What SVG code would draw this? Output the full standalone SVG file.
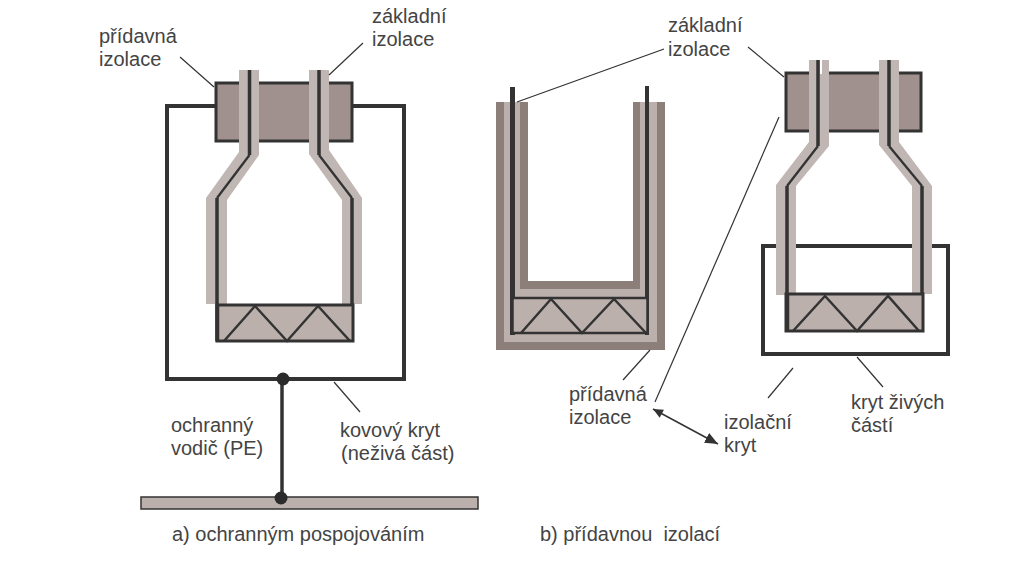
<svg xmlns="http://www.w3.org/2000/svg" width="1024" height="568" viewBox="0 0 1024 568">
<style>
text{font-family:"Liberation Sans",Arial,sans-serif;font-size:20px;fill:#444}
.lead{fill:none;stroke:#333;stroke-width:1.2}
.wire{fill:none;stroke:#333;stroke-width:3.500}
.diag{fill:none;stroke:#333;stroke-width:2.300}
.ins{fill:#c0b6b3}
.frame{fill:none;stroke:#333;stroke-width:4}
.up{fill:#a0918e;stroke:#333;stroke-width:3}
.low{fill:#bcb0ad;stroke:#333;stroke-width:3}
.zig{fill:none;stroke:#333;stroke-width:2.500}
.dot{fill:#2b2b2b}
</style>
<defs>
<marker id="ah1" markerUnits="userSpaceOnUse" markerWidth="12" markerHeight="10" refX="0" refY="5" orient="auto"><path d="M0 5L10 0.500V9.500Z" fill="#333"/></marker>
<marker id="ah2" markerUnits="userSpaceOnUse" markerWidth="14" markerHeight="12" refX="13" refY="6" orient="auto"><path d="M0 0.500L13 6L0 11.500Z" fill="#333"/></marker>
</defs>
<rect width="1024" height="568" fill="#fff"/>

<g id="a-enclosure"><path class="frame" d="M215 106H167V379H404V106H352"/></g>
<g id="a-top-insulator"><rect class="up" x="216" y="83" width="136" height="58"/></g>
<g id="a-conductor-left"><path class="ins" d="M239 70H259V155L227 200V304H206V198L239 152Z"/><path class="wire" d="M249.500 70V155M217 198V341"/><path class="diag" d="M249.500 155L217 198"/></g>
<g id="a-conductor-right"><path class="ins" d="M309 70H329V150L362 198V304H342V200L309 154Z"/><path class="wire" d="M319 70V155M352 198V341"/><path class="diag" d="M319 155L352 198"/></g>
<g id="a-live-part"><rect class="low" x="217" y="305" width="136" height="36"/><path class="wire" d="M217.500 305V342"/><path class="zig" d="M224 341L255 306L287 341L318 306L350 341"/></g>
<g id="a-ground-bar"><rect x="141" y="497" width="337" height="12" fill="#bcb0ad" stroke="#333" stroke-width="1.500"/></g>
<g id="a-pe"><path d="M282 379V498" stroke="#333" stroke-width="3.500" fill="none"/><circle class="dot" cx="283" cy="379" r="6.500"/><circle class="dot" cx="281" cy="498" r="6.500"/></g>

<g id="b-insulated-wall">
<path d="M496 102H528V281H633V102H665V350H496Z" fill="#8c7f7a"/>
<path d="M504 102H520V289H640V102H657V342H504Z" fill="#bcb0ad"/>
<path d="M512.500 87V335" stroke="#333" stroke-width="5" fill="none"/>
<path d="M647 86V335" stroke="#333" stroke-width="4" fill="none"/>
</g>
<g id="b-live-part"><rect x="512.500" y="298" width="135" height="35" fill="#bcb0ad" stroke="#333" stroke-width="2.500"/><path class="zig" d="M521 333L551 299L582 333L614 299L646 333"/></g>

<g id="c-enclosure"><rect class="frame" x="763" y="246" width="185" height="108" stroke-width="4.500"/></g>
<g id="c-top-insulator"><rect class="up" x="786" y="73" width="135" height="58"/></g>
<g id="c-conductor-left"><path class="ins" d="M809 60H829V146L796 186V295H776V185L809 142Z"/><path d="M820 60h2v14h-2Z" fill="#fff"/><path class="wire" d="M818 60V146M787 186V332"/><path class="diag" d="M818 146L787 186"/></g>
<g id="c-conductor-right"><path class="ins" d="M879 60H899V142L932 186V294H912V186L879 145Z"/><path class="wire" d="M889 60V146M922 186V332"/><path class="diag" d="M889 146L922 186"/></g>
<g id="c-live-part"><rect class="low" x="786" y="294" width="137" height="37"/><path class="wire" d="M787.500 294V332" stroke-width="5"/><path class="zig" d="M793 331L825 296L857 331L888 296L919 331"/></g>

<g id="connectors">
<path class="lead" d="M180 57L214 87"/>
<path class="lead" d="M363 43L329 75"/>
<path class="lead" d="M334 382L360 412"/>
<path class="lead" d="M517 102L664 49"/>
<path class="lead" d="M748 47L784 77"/>
<path class="lead" d="M779 117L655 402"/>
<path class="lead" d="M650 350L623 380"/>
<path class="lead" d="M793 368L768 398"/>
<path class="lead" d="M857 357L883 387"/>
<path d="M653 409L718 444" fill="none" stroke="#333" stroke-width="1.500" marker-start="url(#ah1)" marker-end="url(#ah2)"/>
</g>

<g id="labels">
<text x="99" y="43">přídavná</text>
<text x="99" y="66">izolace</text>
<text x="372" y="23">základní</text>
<text x="372" y="46">izolace</text>
<text x="171" y="432">ochranný</text>
<text x="171" y="455">vodič (PE)</text>
<text x="340" y="437">kovový kryt</text>
<text x="341" y="460">(neživá část)</text>
<text x="172" y="541">a) ochranným pospojováním</text>
<text x="668" y="32">základní</text>
<text x="668" y="56">izolace</text>
<text x="569" y="401">přídavná</text>
<text x="569" y="424">izolace</text>
<text x="724" y="429">izolační</text>
<text x="724" y="452">kryt</text>
<text x="851" y="409">kryt živých</text>
<text x="851" y="432">částí</text>
<text x="540" y="541" xml:space="preserve">b) přídavnou  izolací</text>
</g>
</svg>
